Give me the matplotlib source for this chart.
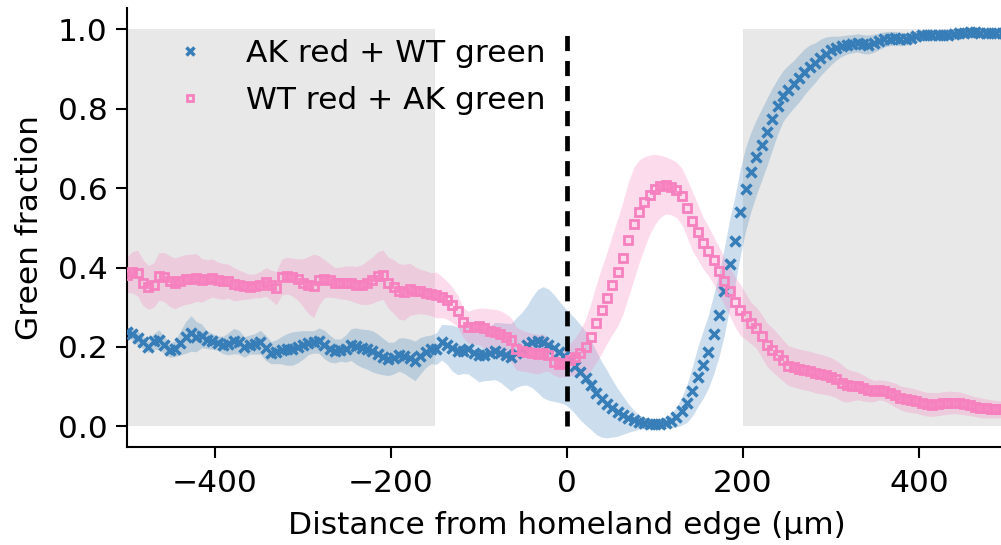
import numpy as np
import matplotlib
matplotlib.use("Agg")
import matplotlib.pyplot as plt

# ---------------- data ----------------
n_bins = 166
distance = np.linspace(-500, 500, n_bins)  # bin centres (µm)

ak_red_wt_green = [
    0.238, 0.232, 0.222, 0.212, 0.200, 0.214, 0.218, 0.205, 0.192, 0.196,
    0.210, 0.224, 0.234, 0.226, 0.228, 0.218, 0.214, 0.210, 0.205, 0.208,
    0.215, 0.212, 0.200, 0.206, 0.208, 0.212, 0.198, 0.186, 0.188, 0.192,
    0.194, 0.196, 0.200, 0.205, 0.211, 0.213, 0.216, 0.206, 0.196, 0.190,
    0.192, 0.196, 0.206, 0.202, 0.197, 0.194, 0.189, 0.183, 0.176, 0.170,
    0.172, 0.181, 0.178, 0.172, 0.165, 0.178, 0.188, 0.194, 0.196, 0.212,
    0.206, 0.197, 0.190, 0.191, 0.194, 0.186, 0.180, 0.181, 0.184, 0.190,
    0.186, 0.180, 0.174, 0.186, 0.195, 0.204, 0.212, 0.215, 0.212, 0.206,
    0.198, 0.188, 0.178, 0.166, 0.152, 0.136, 0.121, 0.104, 0.084, 0.068,
    0.056, 0.045, 0.035, 0.028, 0.021, 0.015, 0.011, 0.008, 0.006, 0.006,
    0.007, 0.009, 0.014, 0.023, 0.038, 0.058, 0.088, 0.124, 0.155, 0.188,
    0.232, 0.280, 0.340, 0.410, 0.468, 0.540, 0.598, 0.642, 0.678, 0.710,
    0.742, 0.775, 0.806, 0.832, 0.848, 0.862, 0.877, 0.893, 0.906, 0.916,
    0.929, 0.939, 0.947, 0.953, 0.958, 0.962, 0.964, 0.966, 0.963, 0.962,
    0.965, 0.970, 0.975, 0.977, 0.978, 0.976, 0.976, 0.978, 0.984, 0.986,
    0.987, 0.987, 0.986, 0.986, 0.987, 0.989, 0.990, 0.992, 0.993, 0.993,
    0.992, 0.990, 0.990, 0.990, 0.991, 0.991]

ak_red_wt_green_err = [
    0.012, 0.015, 0.018, 0.016, 0.014, 0.020, 0.025, 0.022, 0.018, 0.020,
    0.030, 0.040, 0.045, 0.038, 0.030, 0.022, 0.020, 0.018, 0.022, 0.028,
    0.032, 0.030, 0.026, 0.024, 0.026, 0.030, 0.032, 0.028, 0.030, 0.035,
    0.040, 0.042, 0.040, 0.036, 0.030, 0.028, 0.032, 0.036, 0.034, 0.030,
    0.028, 0.034, 0.040, 0.046, 0.048, 0.050, 0.052, 0.050, 0.046, 0.042,
    0.040, 0.042, 0.045, 0.048, 0.050, 0.046, 0.040, 0.036, 0.040, 0.045,
    0.050, 0.058, 0.060, 0.058, 0.062, 0.064, 0.068, 0.066, 0.068, 0.072,
    0.075, 0.080, 0.085, 0.088, 0.092, 0.100, 0.115, 0.130, 0.140, 0.140,
    0.135, 0.128, 0.122, 0.120, 0.120, 0.120, 0.118, 0.112, 0.105, 0.095,
    0.085, 0.072, 0.060, 0.048, 0.036, 0.026, 0.018, 0.014, 0.012, 0.012,
    0.012, 0.014, 0.018, 0.025, 0.035, 0.048, 0.062, 0.075, 0.085, 0.092,
    0.100, 0.105, 0.110, 0.112, 0.112, 0.110, 0.105, 0.100, 0.095, 0.090,
    0.085, 0.078, 0.070, 0.064, 0.062, 0.060, 0.060, 0.058, 0.055, 0.050,
    0.046, 0.042, 0.036, 0.030, 0.026, 0.024, 0.023, 0.023, 0.024, 0.024,
    0.023, 0.021, 0.019, 0.018, 0.017, 0.017, 0.016, 0.015, 0.013, 0.012,
    0.012, 0.011, 0.011, 0.011, 0.010, 0.010, 0.010, 0.009, 0.009, 0.009,
    0.009, 0.008, 0.008, 0.008, 0.008, 0.008]

wt_red_ak_green = [
    0.382, 0.388, 0.386, 0.362, 0.350, 0.356, 0.378, 0.376, 0.366, 0.360,
    0.366, 0.370, 0.372, 0.375, 0.368, 0.370, 0.374, 0.368, 0.365, 0.366,
    0.358, 0.356, 0.354, 0.352, 0.354, 0.357, 0.364, 0.356, 0.348, 0.376,
    0.380, 0.376, 0.370, 0.362, 0.356, 0.354, 0.368, 0.372, 0.368, 0.362,
    0.361, 0.362, 0.360, 0.357, 0.357, 0.362, 0.368, 0.378, 0.382, 0.362,
    0.352, 0.340, 0.338, 0.345, 0.342, 0.340, 0.337, 0.333, 0.331, 0.326,
    0.318, 0.306, 0.290, 0.262, 0.250, 0.251, 0.252, 0.248, 0.241, 0.237,
    0.232, 0.226, 0.218, 0.196, 0.191, 0.188, 0.184, 0.182, 0.185, 0.181,
    0.163, 0.156, 0.159, 0.168, 0.175, 0.185, 0.200, 0.226, 0.260, 0.292,
    0.324, 0.357, 0.388, 0.425, 0.470, 0.510, 0.541, 0.564, 0.584, 0.597,
    0.605, 0.607, 0.603, 0.596, 0.580, 0.550, 0.517, 0.490, 0.462, 0.442,
    0.418, 0.392, 0.366, 0.340, 0.314, 0.293, 0.277, 0.260, 0.248, 0.228,
    0.206, 0.193, 0.180, 0.166, 0.153, 0.149, 0.145, 0.142, 0.139, 0.135,
    0.132, 0.129, 0.125, 0.119, 0.110, 0.103, 0.102, 0.102, 0.097, 0.092,
    0.089, 0.092, 0.090, 0.085, 0.079, 0.072, 0.068, 0.066, 0.063, 0.059,
    0.056, 0.055, 0.056, 0.058, 0.060, 0.060, 0.059, 0.056, 0.053, 0.050,
    0.047, 0.045, 0.044, 0.043, 0.043, 0.044]

wt_red_ak_green_err = [
    0.045, 0.052, 0.058, 0.058, 0.055, 0.056, 0.060, 0.062, 0.064, 0.064,
    0.063, 0.063, 0.062, 0.060, 0.055, 0.050, 0.048, 0.046, 0.045, 0.043,
    0.042, 0.038, 0.034, 0.031, 0.030, 0.033, 0.036, 0.038, 0.042, 0.045,
    0.046, 0.048, 0.052, 0.060, 0.072, 0.080, 0.062, 0.048, 0.042, 0.038,
    0.040, 0.042, 0.044, 0.046, 0.050, 0.055, 0.058, 0.062, 0.062, 0.064,
    0.068, 0.070, 0.070, 0.066, 0.060, 0.056, 0.055, 0.054, 0.058, 0.052,
    0.048, 0.044, 0.040, 0.038, 0.040, 0.044, 0.046, 0.050, 0.055, 0.058,
    0.059, 0.058, 0.056, 0.054, 0.052, 0.050, 0.050, 0.050, 0.048, 0.042,
    0.034, 0.032, 0.034, 0.040, 0.048, 0.058, 0.070, 0.085, 0.098, 0.108,
    0.115, 0.125, 0.135, 0.142, 0.145, 0.142, 0.130, 0.115, 0.100, 0.088,
    0.078, 0.072, 0.070, 0.070, 0.071, 0.073, 0.074, 0.070, 0.065, 0.062,
    0.060, 0.060, 0.060, 0.061, 0.063, 0.064, 0.058, 0.052, 0.052, 0.054,
    0.055, 0.055, 0.054, 0.052, 0.050, 0.050, 0.050, 0.050, 0.050, 0.050,
    0.050, 0.049, 0.048, 0.047, 0.046, 0.042, 0.038, 0.035, 0.033, 0.030,
    0.027, 0.025, 0.026, 0.028, 0.030, 0.030, 0.031, 0.031, 0.030, 0.030,
    0.030, 0.030, 0.029, 0.029, 0.029, 0.028, 0.028, 0.027, 0.026, 0.025,
    0.025, 0.024, 0.023, 0.022, 0.021, 0.021]

shaded_regions = [(-500, -150), (200, 500)]
series_labels = ["AK red + WT green", "WT red + AK green"]
xticks = [-400, -200, 0, 200, 400]
yticks = [0.0, 0.2, 0.4, 0.6, 0.8, 1.0]

assert len(ak_red_wt_green) == n_bins and len(ak_red_wt_green_err) == n_bins
assert len(wt_red_ak_green) == n_bins and len(wt_red_ak_green_err) == n_bins

# ---------------- plot ----------------
blue = "#377eb8"
pink = "#f781bf"
FS = 22.5

fig = plt.figure(figsize=(10.01, 5.45), dpi=100)
ax = fig.add_axes([127 / 1001, (545 - 447) / 545, 880 / 1001, (447 - 8) / 545])

for x0, x1 in shaded_regions:
    ax.fill_between([x0, x1], 0, 1, color="#e8e8e8", lw=0, zorder=0)

b = np.array(ak_red_wt_green)
be = np.array(ak_red_wt_green_err)
p = np.array(wt_red_ak_green)
pe = np.array(wt_red_ak_green_err)

ax.fill_between(distance, b - be, b + be, color=blue, alpha=0.25, lw=0, zorder=1)
ax.fill_between(distance, p - pe, p + pe, color=pink, alpha=0.28, lw=0, zorder=1)

ax.plot(distance, b, ls="none", marker="x", ms=7.6, mew=2.5, color=blue,
        label=series_labels[0], zorder=3)
ax.plot(distance, p, ls="none", marker="s", ms=6.4, mew=2.0, mfc="none",
        mec=pink, label=series_labels[1], zorder=3)

ax.plot([0, 0], [0, 1], color="black", lw=3.4, dashes=(3.2, 2.1), zorder=4)

ax.set_xlim(-500, 500)
ax.set_ylim(-0.052, 1.054)
ax.set_xticks(xticks)
ax.set_yticks(yticks)
ax.set_xlabel("Distance from homeland edge (µm)", fontsize=FS, labelpad=9)
ax.set_ylabel("Green fraction", fontsize=FS, labelpad=10)
ax.tick_params(labelsize=FS, width=1.5, length=8)
ax.tick_params(axis="x", pad=8)
ax.tick_params(axis="y", pad=6)
for s in ("top", "right"):
    ax.spines[s].set_visible(False)
for s in ("left", "bottom"):
    ax.spines[s].set_linewidth(1.5)

ax.legend(loc="upper left", frameon=False, fontsize=FS, markerscale=0.7,
          labelspacing=0.58, borderaxespad=0.6)

fig.savefig("out.png", dpi=100)
